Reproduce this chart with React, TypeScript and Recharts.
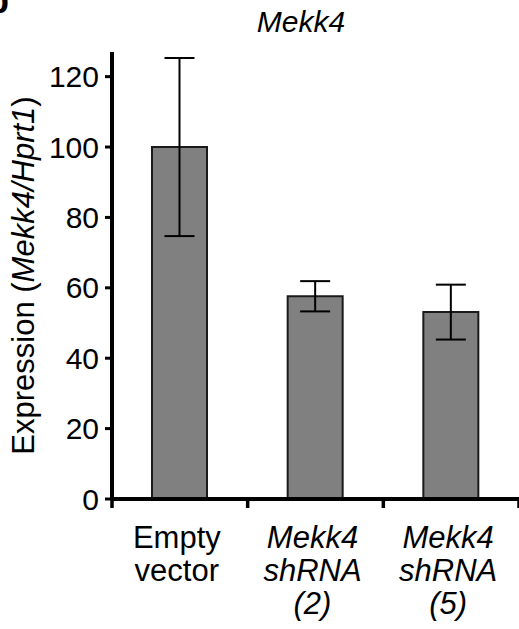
import React from 'react';
import { BarChart, Bar, XAxis, YAxis, ErrorBar, Label } from 'recharts';

const groups = ['empty', 'sh2', 'sh5'];
const labelLines: { text: string; italic: boolean }[][] = [
  [
    { text: 'Empty', italic: false },
    { text: 'vector', italic: false },
  ],
  [
    { text: 'Mekk4', italic: true },
    { text: 'shRNA', italic: true },
    { text: '(2)', italic: true },
  ],
  [
    { text: 'Mekk4', italic: true },
    { text: 'shRNA', italic: true },
    { text: '(5)', italic: true },
  ],
];
const expression = [100, 57.6, 53.1];
const sem = [25.3, 4.3, 7.8];
const yTicks = [0, 20, 40, 60, 80, 100, 120];

const data = groups.map((g, i) => ({ name: g, value: expression[i], err: sem[i] }));

const FONT = '"Liberation Sans", Arial, Helvetica, sans-serif';

const GroupTick = (props: any) => {
  const { x, y, payload, index } = props;
  const half = payload?.offset ?? 68;
  const lines = labelLines[index] ?? [];
  return (
    <g>
      <line x1={x - half} y1={y} x2={x - half} y2={y + 9} stroke="#000" strokeWidth={3.5} />
      {index === groups.length - 1 && (
        <line x1={x + half} y1={y} x2={x + half} y2={y + 9} stroke="#000" strokeWidth={3.5} />
      )}
      {lines.map((l, k) => (
        <text
          key={k}
          x={x - 3}
          y={y + 49 + k * 33}
          textAnchor="middle"
          fontSize={31}
          fontFamily={FONT}
          fontStyle={l.italic ? 'italic' : 'normal'}
          fill="#000"
        >
          {l.text}
        </text>
      ))}
    </g>
  );
};

const YTitle = (props: any) => {
  const vb = props.viewBox || {};
  const cy = (vb.y ?? 52) + (vb.height ?? 447) / 2;
  return (
    <text
      x={34}
      y={cy}
      transform={`rotate(-90 34 ${cy})`}
      textAnchor="middle"
      fontSize={31}
      fontFamily={FONT}
      fill="#000"
    >
      Expression (<tspan fontStyle="italic">Mekk4/Hprt1</tspan>)
    </text>
  );
};

export default function App() {
  return (
    <div style={{ position: 'absolute', left: 0, top: 0, width: 519, height: 629, overflow: 'hidden', background: '#fff' }}>
      <div
        style={{
          position: 'absolute',
          left: -13,
          top: -20,
          fontFamily: FONT,
          fontWeight: 'bold',
          fontSize: 36,
        }}
      >
        b
      </div>
      <div
        style={{
          position: 'absolute',
          left: 201,
          width: 200,
          top: 4,
          textAlign: 'center',
          fontFamily: FONT,
          fontStyle: 'italic',
          fontSize: 30,
          lineHeight: '36px',
        }}
      >
        Mekk4
      </div>
      <BarChart
        width={519}
        height={629}
        data={data}
        margin={{ top: 52, right: 0, bottom: 0, left: 0 }}
        barSize={55}
      >
        <XAxis
          dataKey="name"
          height={130}
          interval={0}
          tickLine={false}
          tickSize={0}
          tickMargin={0}
          axisLine={{ stroke: '#000', strokeWidth: 4 }}
          tick={<GroupTick />}
        />
        <YAxis
          width={112}
          domain={[0, 127]}
          ticks={yTicks}
          interval={0}
          tickSize={7}
          tickMargin={6}
          tickLine={{ stroke: '#000', strokeWidth: 3 }}
          axisLine={{ stroke: '#000', strokeWidth: 4 }}
          tick={{ fill: '#000', fontSize: 30, fontFamily: FONT }}
        >
          <Label content={<YTitle />} />
        </YAxis>
        <Bar dataKey="value" fill="#808080" stroke="#1a1a1a" strokeWidth={2} isAnimationActive={false}>
          <ErrorBar dataKey="err" width={15} stroke="#000" strokeWidth={2} isAnimationActive={false} />
        </Bar>
      </BarChart>
    </div>
  );
}
